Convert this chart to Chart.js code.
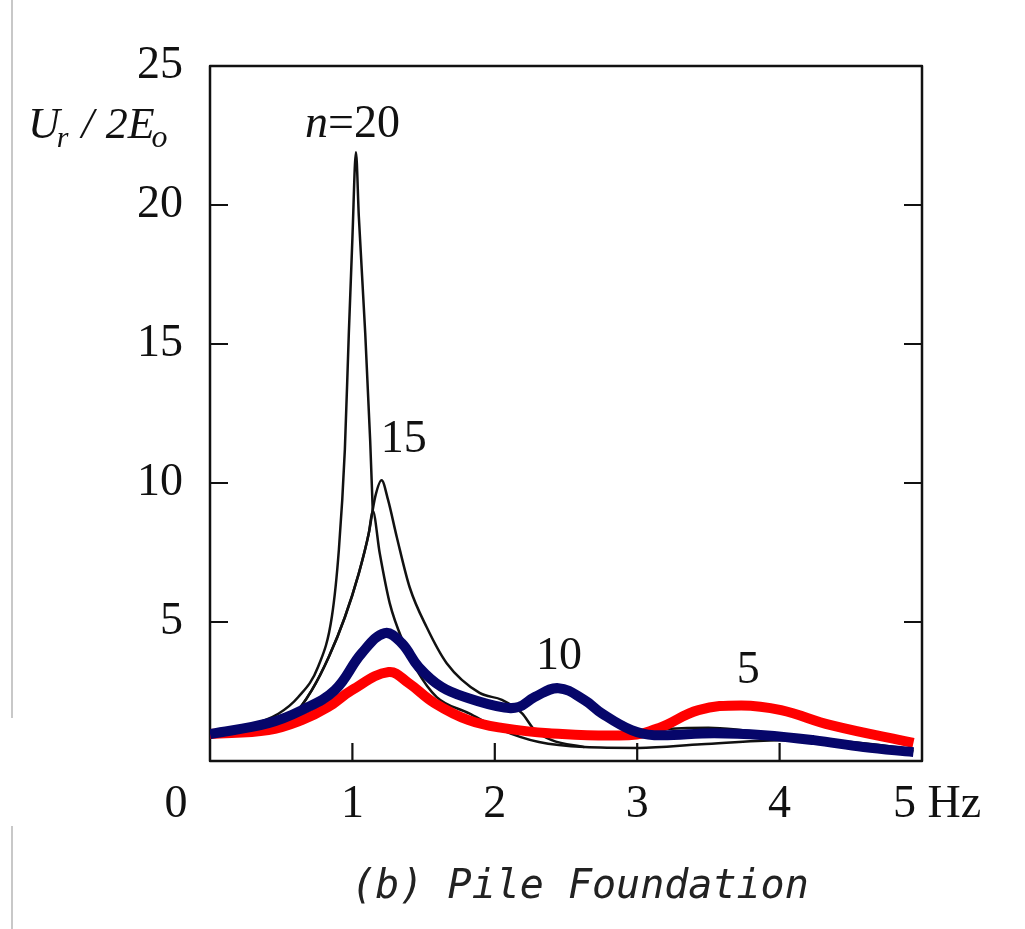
<!DOCTYPE html>
<html>
<head>
<meta charset="utf-8">
<title>Pile Foundation</title>
<script src="https://cdn.jsdelivr.net/npm/chart.js@4/dist/chart.umd.min.js"></script>
<style>
  html, body { margin: 0; padding: 0; background: #fff; }
  #wrap { width: 1025px; height: 929px; }
</style>
</head>
<body>
<div id="wrap"><canvas id="pileChart" width="1025" height="929"></canvas></div>
<script>
// frequency (Hz) / amplitude ratio pairs for each response curve
const n20Freq = [0, 0.25, 0.48, 0.62, 0.76, 0.856, 0.905, 0.947, 0.975, 1.0, 1.025, 1.045, 1.09, 1.125, 1.143];
const n20Amp  = [1.0, 1.25, 1.7, 2.3, 3.4, 5.2, 7.6, 11.2, 15.4, 18.8, 21.9, 19.6, 15.4, 11.5, 9.0];

const n15Freq = [0, 0.3, 0.596, 0.715, 0.834, 0.947, 1.045, 1.115, 1.16, 1.205, 1.25, 1.312, 1.402, 1.522, 1.662, 1.893, 2.05, 2.19, 2.28, 2.4, 2.63];
const n15Amp  = [1.0, 1.25, 1.72, 2.55, 3.74, 5.17, 6.75, 8.19, 9.5, 10.1, 9.4, 8.05, 6.25, 4.81, 3.52, 2.45, 2.2, 1.72, 1.11, 0.75, 0.5];

const n10Freq = [0, 0.3, 0.596, 0.715, 0.834, 0.947, 1.045, 1.115, 1.143, 1.192, 1.262, 1.36, 1.452, 1.592, 1.816, 2.05, 2.31, 2.63, 3.01, 3.45, 4.0, 4.5, 4.94];
const n10Amp  = [1.0, 1.25, 1.72, 2.55, 3.74, 5.17, 6.75, 8.19, 9.0, 7.47, 5.68, 4.24, 3.27, 2.3, 1.72, 1.11, 0.68, 0.5, 0.47, 0.6, 0.75, 0.68, 0.42];

const n5Freq = [2.5, 2.9, 3.2, 3.5, 3.75, 4.0, 4.4, 4.94];
const n5Amp  = [0.95, 1.0, 1.15, 1.2, 1.1, 0.95, 0.7, 0.35];

const blueFreq = [0, 0.41, 0.645, 0.877, 1.066, 1.227, 1.346, 1.466, 1.627, 1.816, 2.05, 2.167, 2.28, 2.447, 2.63, 2.75, 2.96, 3.12, 3.54, 3.89, 4.24, 4.59, 4.94];
const blueAmp  = [0.97, 1.36, 1.83, 2.55, 3.88, 4.6, 4.24, 3.38, 2.66, 2.26, 1.94, 1.94, 2.3, 2.62, 2.19, 1.72, 1.11, 0.93, 1.0, 0.93, 0.75, 0.5, 0.32];

const redFreq = [0, 0.41, 0.645, 0.83, 0.996, 1.255, 1.395, 1.578, 1.816, 2.05, 2.38, 2.94, 3.15, 3.43, 3.73, 4.01, 4.36, 4.94];
const redAmp  = [0.97, 1.11, 1.47, 1.94, 2.55, 3.2, 2.8, 2.08, 1.47, 1.19, 1.0, 0.93, 1.18, 1.83, 2.0, 1.83, 1.29, 0.65];

const xTickLabels = ["0", "1", "2", "3", "4", "5 Hz"];
const yTicks = [5, 10, 15, 20];
const curveLabels = [
  { text: "15", f: 1.36, v: 11.1 },
  { text: "10", f: 2.45, v: 3.3 },
  { text: "5", f: 3.78, v: 2.8 }
];

const pairs = (fs, vs) => fs.map((f, i) => ({ x: f, y: vs[i] }));

const thin = (label, fs, vs) => ({
  label,
  data: pairs(fs, vs),
  borderColor: "#111",
  borderWidth: 2.5,
  pointRadius: 0,
  cubicInterpolationMode: "monotone",
  fill: false
});

const thick = (label, fs, vs, color) => ({
  label,
  data: pairs(fs, vs),
  borderColor: color,
  borderWidth: 10,
  pointRadius: 0,
  tension: 0.4,
  borderJoinStyle: "round",
  fill: false
});

const SERIF = "'Liberation Serif', 'DejaVu Serif', serif";

// box, inward tick marks and all free text
const framePlugin = {
  id: "frame",
  beforeDatasetsDraw(chart) {
    const { ctx, chartArea: a, scales: { x, y } } = chart;
    ctx.save();
    ctx.strokeStyle = "#111";
    ctx.lineWidth = 2.5;
    ctx.lineJoin = "round";
    ctx.strokeRect(a.left, a.top, a.right - a.left, a.bottom - a.top);
    ctx.lineWidth = 2.2;
    ctx.beginPath();
    yTicks.forEach(v => {
      const py = y.getPixelForValue(v);
      ctx.moveTo(a.left, py); ctx.lineTo(a.left + 18, py);
      ctx.moveTo(a.right, py); ctx.lineTo(a.right - 18, py);
    });
    [1, 2, 3, 4].forEach(v => {
      const px = x.getPixelForValue(v);
      ctx.moveTo(px, a.bottom); ctx.lineTo(px, a.bottom - 18);
    });
    ctx.stroke();

    // faint scan edge on the left
    ctx.strokeStyle = "#c8c8c8";
    ctx.lineWidth = 2;
    ctx.beginPath();
    ctx.moveTo(12, 0); ctx.lineTo(12, 718);
    ctx.moveTo(12, 826); ctx.lineTo(12, 929);
    ctx.stroke();
    ctx.restore();
  },
  afterDraw(chart) {
    const { ctx, chartArea: a, scales: { x, y } } = chart;
    ctx.save();
    ctx.fillStyle = "#111";
    ctx.textBaseline = "alphabetic";

    // x tick labels
    ctx.font = "46px " + SERIF;
    xTickLabels.forEach((t, i) => {
      const px = x.getPixelForValue(i);
      if (i === 0) {
        ctx.textAlign = "center";
        ctx.fillText(t, a.left - 34, 817);
      } else if (i === xTickLabels.length - 1) {
        ctx.textAlign = "left";
        ctx.fillText(t, px - 29, 817);
      } else {
        ctx.textAlign = "center";
        ctx.fillText(t, px, 817);
      }
    });

    // curve labels
    ctx.textAlign = "center";
    curveLabels.forEach(l => {
      ctx.fillText(l.text, x.getPixelForValue(l.f), y.getPixelForValue(l.v));
    });

    // n=20
    ctx.textAlign = "left";
    ctx.font = "italic 46px " + SERIF;
    ctx.fillText("n", 305, 137);
    const nw = ctx.measureText("n").width;
    ctx.font = "46px " + SERIF;
    ctx.fillText("=20", 305 + nw, 137);

    // y axis title  U_r / 2E_o
    let cx = 28;
    const base = 138;
    ctx.font = "italic 44px " + SERIF;
    ctx.fillText("U", cx, base);
    cx += ctx.measureText("U").width - 3;
    ctx.font = "italic 30px " + SERIF;
    ctx.fillText("r", cx, base + 9);
    cx += ctx.measureText("r").width + 13;
    ctx.font = "italic 44px " + SERIF;
    ctx.fillText("/", cx, base);
    cx += ctx.measureText("/").width + 12;
    ctx.fillText("2E", cx, base);
    cx += ctx.measureText("2E").width - 3;
    ctx.font = "italic 32px " + SERIF;
    ctx.fillText("o", cx, base + 9);

    // caption
    ctx.font = "italic 40px 'DejaVu Sans Mono', monospace";
    ctx.fillStyle = "#222";
    ctx.textAlign = "center";
    ctx.fillText("(b) Pile Foundation", 580, 898);
    ctx.restore();
  }
};

new Chart(document.getElementById("pileChart"), {
  type: "line",
  data: {
    datasets: [
      thick("blue", blueFreq, blueAmp, "#06066a"),
      thick("red", redFreq, redAmp, "#ff0000"),
      thin("n=20", n20Freq, n20Amp),
      thin("n=15", n15Freq, n15Amp),
      thin("n=10", n10Freq, n10Amp),
      thin("n=5", n5Freq, n5Amp)
    ]
  },
  options: {
    responsive: false,
    animation: false,
    layout: { padding: { top: 66, right: 103, bottom: 168, left: 0 } },
    plugins: {
      legend: { display: false },
      tooltip: { enabled: false }
    },
    scales: {
      x: {
        type: "linear",
        display: false,
        min: 0,
        max: 5
      },
      y: {
        min: 0,
        max: 25,
        afterFit(scale) { scale.width = 210; },
        grid: { display: false, drawTicks: false },
        border: { display: false },
        ticks: {
          stepSize: 5,
          padding: 27,
          color: "#111",
          font: { family: SERIF, size: 46 },
          callback: v => (v === 0 ? "" : String(v))
        }
      }
    }
  },
  plugins: [framePlugin]
});
</script>
</body>
</html>
